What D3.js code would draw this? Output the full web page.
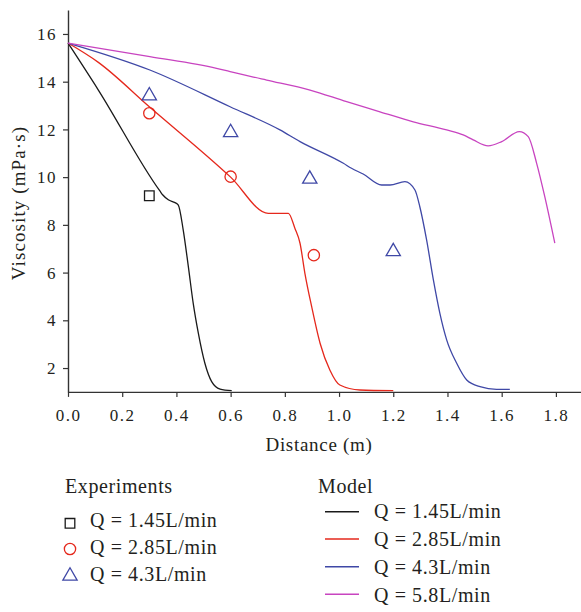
<!DOCTYPE html>
<html>
<head>
<meta charset="utf-8">
<script src="https://cdn.jsdelivr.net/npm/d3@7"></script>
<style>
  html, body { margin: 0; padding: 0; background: #fff; }
  svg { display: block; font-family: "Liberation Serif", "Times New Roman", serif; }
</style>
</head>
<body>
<svg id="chart" width="581" height="612"></svg>
<script>
// Model curves: [distance (m), viscosity (mPa·s)]
const model145 = [[0,15.62],[0.112,13.65],[0.339,9.42],[0.35,9.25],[0.37,9.05],[0.395,8.93],[0.407,8.83],[0.425,7.79],[0.444,6.25],[0.462,4.71],[0.481,3.45],[0.505,2.20],[0.530,1.43],[0.561,1.12],[0.604,1.05]];
const model285 = [[0,15.62],[0.112,14.81],[0.3,12.95],[0.6,10.0],[0.739,8.48],[0.813,8.48],[0.837,7.86],[0.856,7.23],[0.874,5.97],[0.899,4.57],[0.930,3.04],[0.966,1.92],[1.003,1.29],[1.077,1.08],[1.2,1.05]];
const model43 = [[0,15.62],[0.302,14.49],[0.598,12.95],[0.782,11.98],[0.856,11.49],[1.016,10.58],[1.046,10.37],[1.089,10.13],[1.157,9.67],[1.188,9.67],[1.243,9.81],[1.280,9.46],[1.298,8.76],[1.323,7.37],[1.348,5.69],[1.372,4.29],[1.397,3.18],[1.434,2.2],[1.471,1.50],[1.52,1.22],[1.581,1.11],[1.63,1.11]];
const model58 = [[0,15.62],[0.302,15.05],[0.548,14.56],[0.598,14.42],[0.733,14.07],[0.893,13.65],[1.028,13.16],[1.151,12.74],[1.274,12.32],[1.397,11.98],[1.458,11.77],[1.495,11.56],[1.55,11.31],[1.60,11.49],[1.665,11.91],[1.698,11.70],[1.729,10.58],[1.759,9.18],[1.796,7.23]];

// Experimental points
const exp145 = [[0.3,9.22]];
const exp285 = [[0.3,12.68],[0.6,10.02],[0.907,6.73]];
const exp43 = [[0.3,13.41],[0.6,11.87],[0.892,9.92],[1.2,6.88]];

// Tick values
const xMajor = [0,0.2,0.4,0.6,0.8,1.0,1.2,1.4,1.6,1.8];
const xMinor = [0.1,0.3,0.5,0.7,0.9,1.1,1.3,1.5,1.7,1.9];
const yMajor = [2,4,6,8,10,12,14,16];
const yMinor = [1,3,5,7,9,11,13,15,17];

const modelLabels = ["Q = 1.45L/min","Q = 2.85L/min","Q = 4.3L/min","Q = 5.8L/min"];
const expLabels = ["Q = 1.45L/min","Q = 2.85L/min","Q = 4.3L/min"];

const cBlack = "#1a1a1a", cRed = "#e5281c", cBlue = "#3f48a6", cMag = "#c844c0";
const axisColor = "#333";

const svg = d3.select("#chart");
const x = d3.scaleLinear().domain([0, 1.9]).range([68, 583]);
const y = d3.scaleLinear().domain([1, 17]).range([391.9, 10.1]);

// Axes
const gx = svg.append("g").attr("transform", `translate(0,${y(1)})`);
gx.call(d3.axisBottom(x).tickValues(xMinor).tickSize(3).tickSizeOuter(0).tickFormat(""));
gx.call(d3.axisBottom(x).tickValues(xMajor).tickSize(5).tickSizeOuter(0).tickFormat(d3.format(".1f")));
gx.selectAll("text").attr("y", 29.5).attr("dy", 0)
  .attr("font-size", 17).attr("letter-spacing", "1.5px").attr("fill", "#231f20")
  .attr("font-family", "Liberation Serif");

const gy = svg.append("g").attr("transform", `translate(${x(0)},0)`);
gy.call(d3.axisLeft(y).tickValues(yMinor).tickSize(3).tickSizeOuter(0).tickFormat(""));
gy.call(d3.axisLeft(y).tickValues(yMajor).tickSize(5).tickSizeOuter(0).tickFormat(d3.format("d")));
gy.selectAll("text").attr("x", -11).attr("dy", "0.33em")
  .attr("font-size", 17).attr("letter-spacing", "1.5px").attr("fill", "#231f20")
  .attr("font-family", "Liberation Serif");

svg.selectAll(".domain").attr("stroke", axisColor).attr("stroke-width", 1.4);
svg.selectAll(".tick line").attr("stroke", axisColor).attr("stroke-width", 1.2);

// Axis titles
svg.append("text").attr("x", 319).attr("y", 451).attr("text-anchor", "middle")
  .attr("font-size", 19).attr("letter-spacing", "0.7px").attr("fill", "#231f20")
  .text("Distance (m)");
svg.append("text").attr("transform", "translate(25,203) rotate(-90)").attr("text-anchor", "middle")
  .attr("font-size", 19).attr("letter-spacing", "1.1px").attr("fill", "#231f20")
  .text("Viscosity (mPa·s)");

// Model lines
const line = d3.line().x(d => x(d[0])).y(d => y(d[1])).curve(d3.curveMonotoneX);
[[model145, cBlack],[model285, cRed],[model43, cBlue],[model58, cMag]].forEach(([data, col]) => {
  svg.append("path").datum(data).attr("d", line)
    .attr("fill", "none").attr("stroke", col).attr("stroke-width", 1.3)
    .attr("stroke-linejoin", "round");
});

// Experimental markers
const sq = d3.symbol().type(d3.symbolSquare).size(92);
const ci = d3.symbol().type(d3.symbolCircle).size(100);
const tr = d3.symbol().type(d3.symbolTriangle).size(88);
function markers(data, gen, col) {
  svg.append("g").selectAll("path").data(data).join("path")
    .attr("transform", d => `translate(${x(d[0])},${y(d[1])})`)
    .attr("d", gen).attr("fill", "none").attr("stroke", col).attr("stroke-width", 1.3);
}
markers(exp145, sq, cBlack);
markers(exp285, ci, cRed);
markers(exp43, tr, cBlue);

// Legend: experiments
const legFont = 20, legSpacing = "0.6px";
svg.append("text").attr("x", 65).attr("y", 493).attr("font-size", legFont)
  .attr("letter-spacing", legSpacing).attr("fill", "#231f20").text("Experiments");
const expRowsY = [523.3, 549, 576];
const expBase = [527, 553.5, 581];
[[sq, cBlack],[ci, cRed],[tr, cBlue]].forEach(([gen, col], i) => {
  svg.append("path").attr("transform", `translate(70,${expRowsY[i]})`)
    .attr("d", gen).attr("fill", "none").attr("stroke", col).attr("stroke-width", 1.3);
  svg.append("text").attr("x", 90).attr("y", expBase[i]).attr("font-size", legFont)
    .attr("letter-spacing", legSpacing).attr("fill", "#231f20").text(expLabels[i]);
});

// Legend: model
svg.append("text").attr("x", 318).attr("y", 493).attr("font-size", legFont)
  .attr("letter-spacing", legSpacing).attr("fill", "#231f20").text("Model");
const modRowsY = [511.7, 539, 566.7, 594.3];
const modBase = [518, 546, 574, 601.5];
[cBlack, cRed, cBlue, cMag].forEach((col, i) => {
  svg.append("line").attr("x1", 325).attr("x2", 359).attr("y1", modRowsY[i]).attr("y2", modRowsY[i])
    .attr("stroke", col).attr("stroke-width", 1.5);
  svg.append("text").attr("x", 374).attr("y", modBase[i]).attr("font-size", legFont)
    .attr("letter-spacing", legSpacing).attr("fill", "#231f20").text(modelLabels[i]);
});
</script>
</body>
</html>
